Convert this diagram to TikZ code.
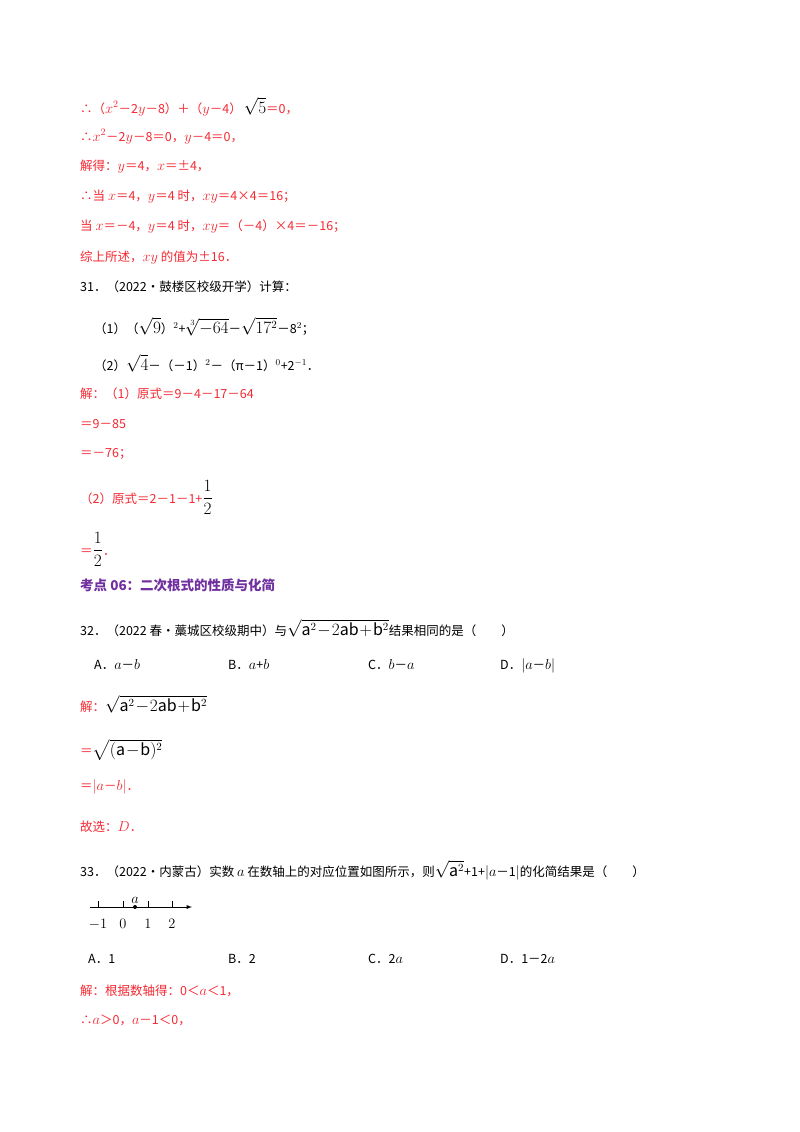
\documentclass[tikz,border=0pt]{standalone}
\usepackage{fontspec}
\setmainfont{Noto Sans CJK SC}
\usepackage{amsmath}
\definecolor{ansred}{RGB}{245,40,50}
\definecolor{headp}{RGB}{112,48,160}
\newcommand{\bgm}[1]{{\fontsize{16}{18}\selectfont$#1$}}
\newcommand{\mth}[1]{{\fontsize{14}{16}\selectfont$#1$}}
\begin{document}
\begin{tikzpicture}[x=1pt,y=-1pt,
  ln/.style={anchor=base west,inner sep=0pt,font=\fontsize{12.5}{14}\selectfont},
  rd/.style={ln,text=ansred},
  bk/.style={ln,text=black}]
\useasboundingbox[fill=white] (0,0) rectangle (800,1132);
\node[rd] (l1) at (80,113) {∴（\mth{x^2}－2\mth{y}－8）＋（\mth{y}－4）\,{\color{black}\bgm{\sqrt{5}}}＝0，};
\node[rd] (l2) at (80,141) {∴\mth{x^2}－2\mth{y}－8＝0，\mth{y}－4＝0，};
\node[rd] (l3) at (80,170) {解得：\mth{y}＝4，\mth{x}＝±4，};
\node[rd] (l4) at (80,200) {∴当 \mth{x}＝4，\mth{y}＝4 时，\mth{xy}＝4×4＝16；};
\node[rd] (l5) at (80,230) {当 \mth{x}＝－4，\mth{y}＝4 时，\mth{xy}＝（－4）×4＝－16；};
\node[rd] (l6) at (80,261) {综上所述，\mth{xy} 的值为±16．};
\node[bk] (q31) at (80,291) {31．（2022•鼓楼区校级开学）计算：};
\node[bk] (q31a) at (94,333) {（1）（\bgm{\sqrt{9}}）$^{2}$+\bgm{\sqrt[3]{-64}}－\bgm{\sqrt{17^2}}－8$^2$；};
\node[bk] (q31b) at (94,370) {（2）\bgm{\sqrt{4}}－（－1）$^{2}$－（π－1）$^{0}$+2$^{-1}$．};
\node[rd] (s1) at (80,398) {解：（1）原式＝9－4－17－64};
\node[rd] (s2) at (80,428) {＝9－85};
\node[rd] (s3) at (80,457) {＝－76；};
\node[rd] (s4) at (80,503) {（2）原式＝2－1－1+{\color{black}\bgm{\dfrac{1}{2}}}};
\node[rd] (s5) at (80,555) {＝{\color{black}\bgm{\dfrac{1}{2}}}．};
\node[ln,text=headp,font=\fontsize{13.5}{15}\bfseries] (h6) at (80,590) {考点 06：二次根式的性质与化简};
\node[bk] (q32) at (80,635) {32．（2022 春•藁城区校级期中）与\bgm{\sqrt{\mathrm{a}^2\!-\!2\mathrm{ab}\!+\!\mathrm{b}^2}}结果相同的是（\qquad）};
\node[bk] (o32a) at (94,669) {A．\mth{a}－\mth{b}};
\node[bk] (o32b) at (228,669) {B．\mth{a}+\mth{b}};
\node[bk] (o32c) at (368,669) {C．\mth{b}－\mth{a}};
\node[bk] (o32d) at (500,669) {D．\mth{|a}－\mth{b|}};
\node[rd] (t1) at (80,711) {解：{\color{black}\bgm{\sqrt{\mathrm{a}^2\!-\!2\mathrm{ab}\!+\!\mathrm{b}^2}}}};
\node[rd] (t2) at (80,755) {＝{\color{black}\bgm{\sqrt{(\mathrm{a}\!-\!\mathrm{b})^2}}}};
\node[rd] (t3) at (80,790) {＝\mth{|a}－\mth{b|}．};
\node[rd] (t4) at (80,831) {故选：\mth{D}．};
\node[bk] (q33) at (80,876) {33．（2022•内蒙古）实数 \mth{a} 在数轴上的对应位置如图所示，则\bgm{\sqrt{\mathrm{a}^2}}+1+\mth{|a}－1\mth{|}的化简结果是（\qquad）};
\coordinate (ns) at (90,907);
\coordinate (ne) at (192,907);
\draw[line width=0.9pt,-latex] (ns) -- (ne);
\foreach \xx/\lab in {98/-1,123/0,148/1,172/2}{
  \draw[line width=0.7pt] (\xx,907) -- (\xx,901);
  \node[bk,anchor=base] at (\xx,928) {\mth{\lab}};
}
\fill (135,907) circle (2pt);
\node[bk,anchor=base] (alab) at (135,903) {\mth{a}};
\node[bk] (o33a) at (88,963) {A．1};
\node[bk] (o33b) at (228,963) {B．2};
\node[bk] (o33c) at (368,963) {C．2\mth{a}};
\node[bk] (o33d) at (500,963) {D．1－2\mth{a}};
\node[rd] (u1) at (80,995) {解：根据数轴得：0＜\mth{a}＜1，};
\node[rd] (u2) at (80,1024) {∴\mth{a}＞0，\mth{a}－1＜0，};
\end{tikzpicture}
\end{document}
